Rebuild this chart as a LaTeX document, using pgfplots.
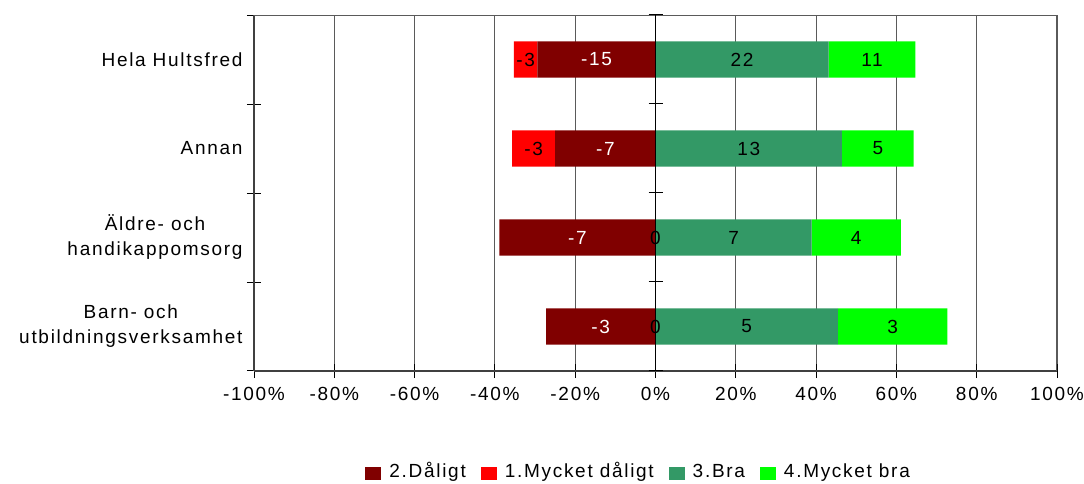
\documentclass[border=0pt]{standalone}
\usepackage{fontspec}
\setmainfont{Liberation Sans}[LetterSpace=9]
\usepackage{pgfplots}
\usepackage{pgfplotstable}
\pgfplotsset{compat=1.18}
\definecolor{cDal}{RGB}{128,0,0}
\definecolor{cMD}{RGB}{255,0,0}
\definecolor{cBra}{RGB}{51,153,102}
\definecolor{cMB}{RGB}{0,255,0}
\definecolor{cGrid}{RGB}{90,90,90}
\definecolor{cAxis}{RGB}{64,64,64}

% shares in percent of answers; y: 3 = Hela Hultsfred ... 0 = Barn- och utb.
% counts: Hela 3/15/22/11, Annan 3/7/13/5, Aldre 0/7/7/4, Barn 0/3/5/3
\pgfplotstableread{
y  dal     md      bra    mb
3  -29.41  -5.88   43.14  21.57
2  -25.00  -10.71  46.43  17.86
1  -38.89  0.00    38.89  22.22
0  -27.27  0.00    45.45  27.27
}\shares

% value labels (counts) at the middle of each segment
\pgfplotstableread{
x       y  lab
-14.71  3  -15
-12.50  2  -7
-19.44  1  -7
-13.64  0  -3
}\lblW
\pgfplotstableread{
x       y  lab
-32.35  3  -3
-30.36  2  -3
0.00    1  0
0.00    0  0
21.57   3  22
23.21   2  13
19.44   1  7
22.73   0  5
53.92   3  11
55.36   2  5
50.00   1  4
59.09   0  3
}\lblB

\begin{document}
\begin{tikzpicture}[font=\fontsize{19bp}{25bp}\selectfont]
\useasboundingbox (0,0) rectangle (1084bp,484bp);
\begin{axis}[
  at={(254bp,113bp)}, anchor=south west,
  scale only axis, width=803bp, height=356bp,
  xbar stacked, bar width=36bp,
  xmin=-100, xmax=100, ymin=-0.5, ymax=3.5,
  axis lines=left,
  axis line style={-, cAxis, line width=1.6bp},
  xtick={-100,-80,...,100},
  xticklabels={-100\%,-80\%,-60\%,-40\%,-20\%,0\%,20\%,40\%,60\%,80\%,100\%},
  xticklabel style={yshift=-13bp},
  xmajorgrids, grid style={cGrid, line width=0.9bp},
  ytick={0,1,2,3},
  yticklabels={{Barn- och\\utbildningsverksamhet},{Äldre- och\\handikappomsorg},Annan,Hela Hultsfred},
  yticklabel style={align=center, xshift=-8bp},
  minor xtick={-100,-80,...,100},
  minor ytick={-0.5,0.5,1.5,2.5,3.5},
  tick align=center, major tick length=0bp, minor tick length=14bp,
  tick style={black, line width=1bp},
  legend style={draw=none, fill=none, at={(0.479,-0.287)}, anchor=center,
    legend columns=4, font=\fontsize{19bp}{25bp}\selectfont,
    nodes={text height=13.5bp, text depth=4bp},
    /tikz/every odd column/.append style={column sep=6bp},
    /tikz/every even column/.append style={column sep=13bp}},
  legend image code/.code={\draw[#1,draw=none] (0bp,-6.5bp) rectangle (16bp,6.5bp);},
]
\addplot[fill=cDal, draw=none] table[x=dal, y=y] \shares;
\addlegendentry{2.Dåligt}
\addplot[fill=cMD, draw=none] table[x=md, y=y] \shares;
\addlegendentry{1.Mycket dåligt}
\addplot[fill=cBra, draw=none] table[x=bra, y=y] \shares;
\addlegendentry{3.Bra}
\addplot[fill=cMB, draw=none] table[x=mb, y=y] \shares;
\addlegendentry{4.Mycket bra}
\draw[cGrid, line width=1.2bp] (rel axis cs:0,1) -- (rel axis cs:1,1) -- (rel axis cs:1,0);
\end{axis}
\begin{axis}[
  at={(254bp,113bp)}, anchor=south west,
  scale only axis, width=803bp, height=356bp,
  xmin=-100, xmax=100, ymin=-0.5, ymax=3.5,
  axis x line=none, axis y line=center,
  y axis line style={-, black, line width=1.3bp},
  xtick=\empty,
  ytick={-0.5,0.5,1.5,2.5,3.5}, yticklabels={},
  tick align=center, major tick length=14bp,
  tick style={black, line width=1bp},
  clip=false,
]
\addplot[draw=none, nodes near coords, point meta=explicit symbolic,
  nodes near coords style={anchor=center, text=white}]
  table[x=x, y=y, meta=lab] \lblW;
\addplot[draw=none, nodes near coords, point meta=explicit symbolic,
  nodes near coords style={anchor=center, text=black}]
  table[x=x, y=y, meta=lab] \lblB;
\end{axis}
\end{tikzpicture}
\end{document}
